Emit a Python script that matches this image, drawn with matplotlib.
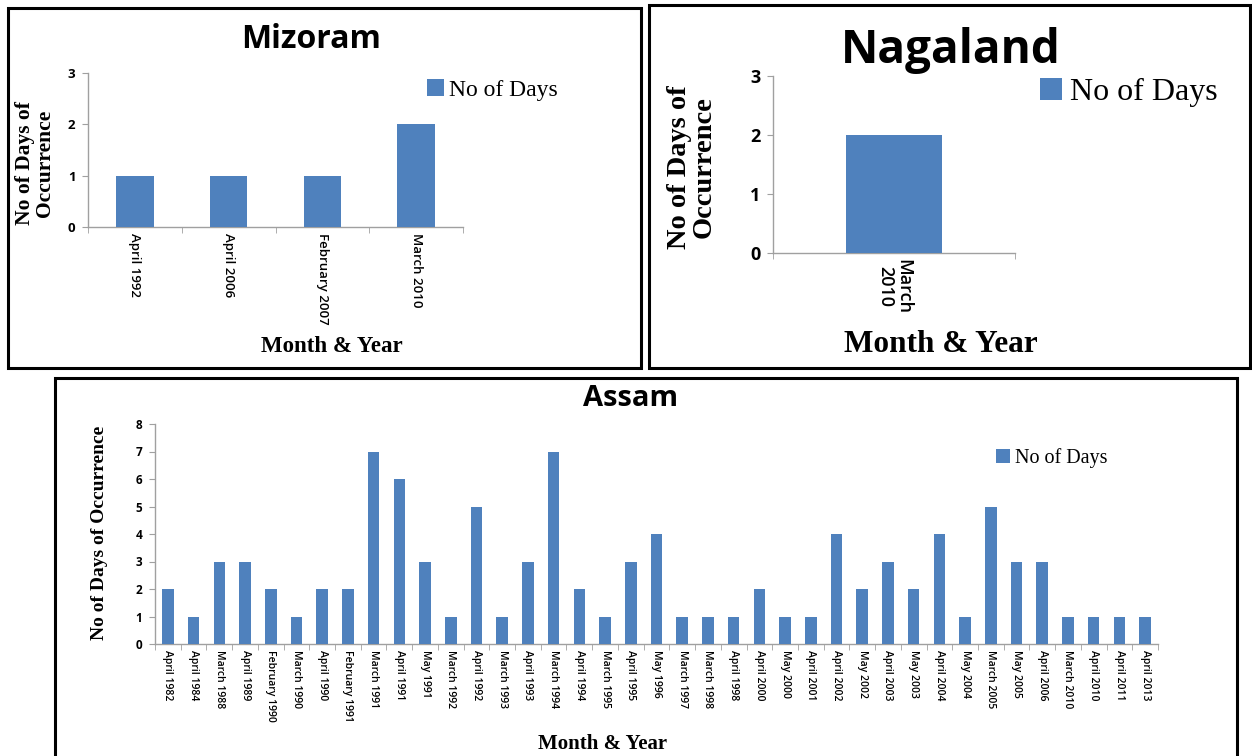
import matplotlib
matplotlib.use('Agg')
import matplotlib.pyplot as plt
from matplotlib.patches import Rectangle
import numpy as np

# data
miz_labels = ['April 1992', 'April 2006', 'February 2007', 'March 2010']
miz_days = [1, 1, 1, 2]

nag_labels = ['March\n2010']
nag_days = [2]

asm_labels = ['April 1982', 'April 1984', 'March 1988', 'April 1989', 'February 1990',
              'March 1990', 'April 1990', 'February 1991', 'March 1991', 'April 1991',
              'May 1991', 'March 1992', 'April 1992', 'March 1993', 'April 1993',
              'March 1994', 'April 1994', 'March 1995', 'April 1995', 'May 1996',
              'March 1997', 'March 1998', 'April 1998', 'April 2000', 'May 2000',
              'April 2001', 'April 2002', 'May 2002', 'April 2003', 'May 2003',
              'April 2004', 'May 2004', 'March 2005', 'May 2005', 'April 2006',
              'March 2010', 'April 2010', 'April 2011', 'April 2013']
asm_days = [2, 1, 3, 3, 2, 1, 2, 2, 7, 6, 3, 1, 5, 1, 3, 7, 2, 1, 3, 4,
            1, 1, 1, 2, 1, 1, 4, 2, 3, 2, 4, 1, 5, 3, 3, 1, 1, 1, 1]

W, H = 1252, 756
BLUE = '#4F81BD'
SERIF = 'Liberation Serif'
SANS = 'Open Sans'

fig = plt.figure(figsize=(W/100, H/100), dpi=100)

def box(l, t, r, b):
    return [l/W, 1-b/H, (r-l)/W, (b-t)/H]

def frame(l, t, r, b):
    fig.patches.append(Rectangle((l/W, 1-b/H), (r-l)/W, (b-t)/H, transform=fig.transFigure,
                                 fill=False, edgecolor='black', linewidth=2.2))

def ftext(x, y, s, **kw):
    fig.text(x/W, 1-y/H, s, **kw)

def panel(ax_box, labels, vals, ymax, width, tick_fs, xt_fs, leg_pos, leg_fs):
    ax = fig.add_axes(box(*ax_box))
    x = np.arange(len(vals))
    ax.bar(x, vals, width=width, color=BLUE, label='No of Days', zorder=3)
    ax.set_xlim(-0.5, len(vals)-0.5)
    ax.set_ylim(0, ymax)
    ax.set_yticks(range(ymax+1))
    ax.set_yticklabels([str(v) for v in range(ymax+1)], fontsize=tick_fs,
                       fontweight='bold', family=SANS)
    ax.set_xticks(x)
    ax.set_xticklabels(labels, rotation=270, fontsize=xt_fs, family=SANS,
                       fontweight='semibold', va='top', ha='center', linespacing=1.0)
    ax.set_xticks(np.arange(len(vals)+1)-0.5, minor=True)
    ax.tick_params(axis='x', which='major', length=0, pad=4)
    ax.tick_params(axis='x', which='minor', length=4, color='#a0a0a0', direction='out')
    ax.tick_params(axis='y', length=4, color='#a0a0a0', direction='out', pad=5)
    for s in ('top', 'right'):
        ax.spines[s].set_visible(False)
    for s in ('left', 'bottom'):
        ax.spines[s].set_color('#a0a0a0')
        ax.spines[s].set_linewidth(1.0)
    ax.legend(loc='upper left', bbox_to_anchor=(leg_pos[0]/W, 1-leg_pos[1]/H),
              bbox_transform=fig.transFigure, frameon=False,
              prop={'family': SERIF, 'size': leg_fs}, handlelength=0.7,
              handleheight=0.7, handletextpad=0.25, borderaxespad=0, borderpad=0)
    return ax

# Mizoram
frame(8, 8, 641, 368)
panel((88, 73, 463, 227), miz_labels, miz_days, 3, 0.4, 9.5, 9.5, (427, 79), 17)
ftext(311, 40, 'Mizoram', ha='center', va='center', fontsize=23, fontweight='bold', family=SANS)
ftext(35, 163, 'No of Days of\nOccurrence', ha='center', va='center', rotation=90,
      fontsize=15.5, fontweight='bold', family=SERIF, linespacing=1.0)
ftext(332, 346, 'Month & Year', ha='center', va='center', fontsize=16.5,
      fontweight='bold', family=SERIF)

# Nagaland
frame(649, 5, 1250, 368)
panel((773, 76, 1015, 253), nag_labels, nag_days, 3, 0.4, 13, 13, (1040, 78), 23)
ftext(951, 50, 'Nagaland', ha='center', va='center', fontsize=33, fontweight='bold', family=SANS)
ftext(692, 167, 'No of Days of\nOccurrence', ha='center', va='center', rotation=90,
      fontsize=20.5, fontweight='bold', family=SERIF, linespacing=1.0)
ftext(941, 345, 'Month & Year', ha='center', va='center', fontsize=22.5,
      fontweight='bold', family=SERIF)

# Assam
frame(55, 378, 1237, 758)
panel((155, 424, 1158, 644), asm_labels, asm_days, 8, 0.45, 8.5, 7.5, (996, 448), 14.5)
ftext(631, 399, 'Assam', ha='center', va='center', fontsize=21, fontweight='bold', family=SANS)
ftext(100, 533, 'No of Days of Occurrence', ha='center', va='center', rotation=90,
      fontsize=14, fontweight='bold', family=SERIF)
ftext(603, 744, 'Month & Year', ha='center', va='center', fontsize=15,
      fontweight='bold', family=SERIF)

fig.savefig('out.png', dpi=100)
